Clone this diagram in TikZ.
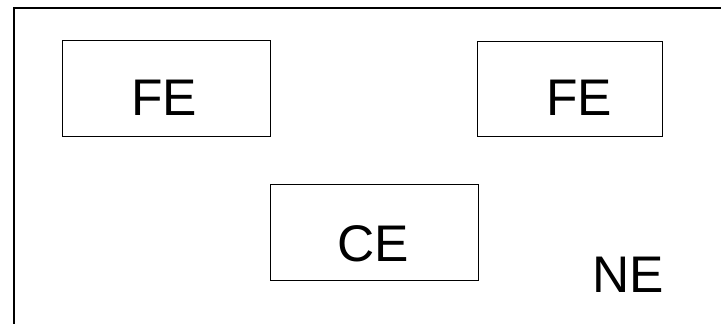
\documentclass[tikz,border=0pt]{standalone}
\usepackage{fontspec}
\setmainfont{Liberation Sans}
\begin{document}
\begin{tikzpicture}[x=1pt,y=-1pt,
  box/.style={draw=black, line width=1pt, rectangle, inner sep=0pt},
  lbl/.style={anchor=base, inner sep=0pt, font=\fontsize{51.5}{60}\selectfont}]
\useasboundingbox (0,0) rectangle (721,324);
\begin{scope}
\clip (0,0) rectangle (721,324);
\draw[line width=1.4pt] (14,340) -- (14,8) -- (740,8);
\end{scope}
\node[box, minimum width=208pt, minimum height=96pt] (fe1) at (166,88) {};
\node[box, minimum width=185pt, minimum height=95pt] (fe2) at (569.5,88.5) {};
\node[box, minimum width=208pt, minimum height=96pt] (ce) at (374,232) {};
\node[lbl] (fe1t) at (164,115) {FE};
\node[lbl] (fe2t) at (579,115) {FE};
\node[lbl] (cet) at (373.5,261) {CE};
\node[lbl] (net) at (628,292) {NE};
\end{tikzpicture}
\end{document}
